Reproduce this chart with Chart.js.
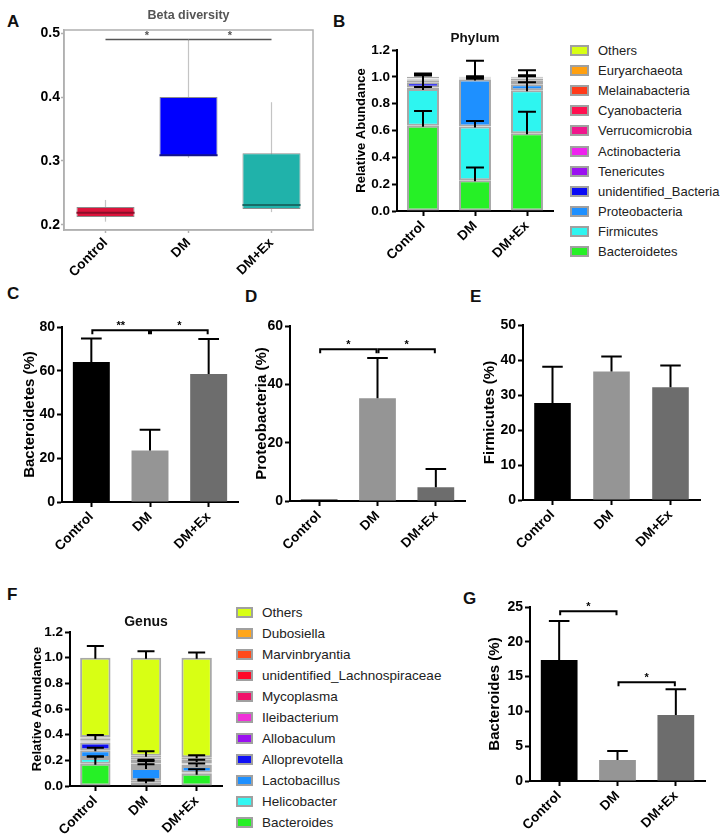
<!DOCTYPE html>
<html>
<head>
<meta charset="utf-8">
<script src="https://cdn.jsdelivr.net/npm/chart.js@4.4.0/dist/chart.umd.min.js"></script>
<style>
  body { margin: 0; background: #fff; font-family: "Liberation Sans", Arial, sans-serif; }
  #page { position: relative; width: 726px; height: 836px; overflow: hidden; background: #fff; }
  canvas.panel { position: absolute; }
  .letter { position: absolute; font-weight: bold; font-size: 17px; line-height: 17px; color: #111; }
  .legend { position: absolute; color: #222; white-space: nowrap; }
  .legend .item { display: flex; align-items: center; }
  .legend .box { box-sizing: border-box; border: 2px solid #a0a0a0; display: inline-block; margin-right: 9px; }
</style>
</head>
<body>
<div id="page">
  <div class="letter" style="left:7px;top:13px">A</div>
  <div class="letter" style="left:333px;top:13px">B</div>
  <div class="letter" style="left:7px;top:285px">C</div>
  <div class="letter" style="left:245px;top:288px">D</div>
  <div class="letter" style="left:470px;top:288px">E</div>
  <div class="letter" style="left:7px;top:586px">F</div>
  <div class="letter" style="left:463px;top:590px">G</div>
</div>
<script>
const groups = ["Control", "DM", "DM+Ex"];

// A: beta diversity box plot
const betaQ1 = [0.2125, 0.308, 0.225];
const betaQ3 = [0.228, 0.400, 0.312];
const betaMedian = [0.219, 0.309, 0.231];
const betaMin = [0.205, 0.305, 0.220];
const betaMax = [0.239, 0.490, 0.392];
const betaTicks = [0.2, 0.3, 0.4, 0.5];
const betaSig = [{ from: 0, to: 1, y: 0.49, text: "*" }, { from: 1, to: 2, y: 0.49, text: "*" }];

// B: phylum relative abundance (bottom to top)
const phylumNames = ["Bacteroidetes", "Firmicutes", "Proteobacteria", "unidentified_Bacteria", "Tenericutes",
  "Actinobacteria", "Verrucomicrobia", "Cyanobacteria", "Melainabacteria", "Euryarchaeota", "Others"];
const phylumControl = [0.635, 0.275, 0.010, 0.040, 0.010, 0.010, 0.005, 0.003, 0.002, 0.002, 0.008];
const phylumDM      = [0.230, 0.400, 0.350, 0.003, 0.005, 0.002, 0.002, 0.001, 0.001, 0.001, 0.005];
const phylumDMEx    = [0.580, 0.320, 0.045, 0.030, 0.010, 0.003, 0.003, 0.001, 0.001, 0.001, 0.006];
const phylumErrControl = [0.110, 0.115, 0.005, 0.060, 0.040, 0, 0.030, 0, 0, 0, 0.020];
const phylumErrDM      = [0.095, 0.040, 0.140, 0.003, 0.010, 0, 0, 0, 0, 0, 0.005];
const phylumErrDMEx    = [0.160, 0.060, 0.065, 0.075, 0.020, 0, 0, 0, 0, 0, 0.010];
const phylumTicks = [0, 0.2, 0.4, 0.6, 0.8, 1.0, 1.2];

// C, D, E: phylum level bars (%)
const bacteroidetesMean = [64.0, 23.5, 58.5];
const bacteroidetesSD = [10.8, 9.5, 16.0];
const bacteroidetesSig = [{ from: 0, to: 1, y: 78.5, text: "**" }, { from: 1, to: 2, y: 78.5, text: "*" }];
const proteobacteriaMean = [0.5, 35.2, 4.7];
const proteobacteriaSD = [0, 13.8, 6.3];
const proteobacteriaSig = [{ from: 0, to: 1, y: 52, text: "*" }, { from: 1, to: 2, y: 52, text: "*" }];
const firmicutesMean = [27.7, 36.7, 32.2];
const firmicutesSD = [10.4, 4.3, 6.2];

// F: genus relative abundance (bottom to top)
const genusNames = ["Bacteroides", "Helicobacter", "Lactobacillus", "Alloprevotella", "Allobaculum", "Ileibacterium",
  "Mycoplasma", "unidentified_Lachnospiraceae", "Marvinbryantia", "Dubosiella", "Others"];
const genusControl = [0.174, 0.045, 0.060, 0.060, 0.008, 0.005, 0.015, 0.005, 0.005, 0.005, 0.618];
const genusDM      = [0.030, 0.015, 0.095, 0.015, 0.020, 0.020, 0.010, 0.005, 0.010, 0.015, 0.765];
const genusDMEx    = [0.095, 0.010, 0.050, 0.010, 0.005, 0.005, 0.005, 0.015, 0.010, 0.020, 0.775];
const genusErrControl = [0.056, 0.010, 0.020, 0.000, 0.000, 0.000, 0.030, 0, 0, 0, 0.090];
const genusErrDM      = [0.013, 0.005, 0.030, 0.000, 0.020, 0.010, 0.000, 0, 0, 0.035, 0.050];
const genusErrDMEx    = [0.035, 0.000, 0.020, 0.000, 0.000, 0.000, 0.000, 0.010, 0, 0.015, 0.040];

// G: Bacteroides (%)
const bacteroidesMean = [17.4, 3.0, 9.5];
const bacteroidesSD = [5.6, 1.3, 3.7];
const bacteroidesSig = [{ from: 0, to: 1, y: 24.4, text: "*" }, { from: 1, to: 2, y: 14.2, text: "*" }];

// colours
const betaColors = ["#dc143c", "#0000ff", "#20b2aa"];
const betaMedianColors = ["#8a0f2a", "#14148a", "#176b66"];
const barColors = ["#000000", "#959595", "#6d6d6d"];
const phylumColors = ["#26f026", "#2ef5f0", "#1e90ff", "#0a0af5", "#9a10f0", "#ee22ee", "#f0168c", "#ff1050", "#ff3a1a", "#ffa010", "#d8ff14"];
const genusColors = ["#26f026", "#33f7f2", "#1e90ff", "#1010f5", "#9a10f0", "#f030d8", "#f0106a", "#ff0a28", "#ff4a1a", "#ffa61a", "#d8ff14"];

const FONT = '"Liberation Sans", Arial, Helvetica, sans-serif';
Chart.defaults.font.family = FONT;
Chart.defaults.color = "#000";
Chart.defaults.animation = false;

const page = document.getElementById("page");

function place(left, top, w, h) {
  const c = document.createElement("canvas");
  c.className = "panel";
  c.width = w; c.height = h;
  c.style.left = left + "px"; c.style.top = top + "px";
  c.style.width = w + "px"; c.style.height = h + "px";
  page.appendChild(c);
  return c;
}

function yAxis(o) {
  return {
    stacked: !!o.stacked,
    min: o.min, max: o.max,
    afterBuildTicks: s => { s.ticks = o.ticks.map(v => ({ value: v })); },
    afterFit: s => { s.width = o.width; },
    ticks: { font: { size: o.tickSize || 14, weight: "bold" }, color: "#000", padding: o.tickPad || 2, callback: o.fmt },
    grid: { drawOnChartArea: false, tickLength: o.tickLength || 5, tickWidth: o.lineW || 2, tickColor: o.line || "#000" },
    border: { color: o.line || "#000", width: o.lineW || 2 },
    title: o.title ? {
      display: true, text: o.title, color: "#000",
      font: { size: o.titleSize || 15, weight: "bold" },
      padding: { top: o.titlePad, bottom: 0 }
    } : { display: false }
  };
}

function xAxis(height, o = {}) {
  return {
    stacked: !!o.stacked,
    afterFit: s => { s.height = height; },
    ticks: { font: { size: o.tickSize || 13.5, weight: "bold" }, color: "#000", minRotation: 45, maxRotation: 45, padding: 2 },
    grid: { drawOnChartArea: false, offset: false, tickLength: o.tickLength || 5, tickWidth: o.lineW || 2, tickColor: o.line || "#000" },
    border: { color: o.line || "#000", width: o.lineW || 2 }
  };
}

function titlePlugin(text, y, size, color) {
  return {
    id: "panelTitle",
    afterDraw(chart) {
      const { ctx, chartArea } = chart;
      ctx.save();
      ctx.font = `bold ${size}px ${FONT}`;
      ctx.fillStyle = color;
      ctx.textAlign = "center";
      ctx.textBaseline = "middle";
      ctx.fillText(text, (chartArea.left + chartArea.right) / 2, y);
      ctx.restore();
    }
  };
}

function errorBars(means, sds) {
  return {
    id: "errorBars",
    afterDatasetsDraw(chart) {
      const { ctx } = chart;
      const y = chart.scales.y;
      const meta = chart.getDatasetMeta(0);
      ctx.save();
      ctx.strokeStyle = "#000";
      ctx.lineWidth = 2;
      meta.data.forEach((bar, i) => {
        if (!sds[i]) return;
        const top = y.getPixelForValue(means[i] + sds[i]);
        const half = bar.width * 0.28;
        ctx.beginPath();
        ctx.moveTo(bar.x, bar.y);
        ctx.lineTo(bar.x, top);
        ctx.moveTo(bar.x - half, top);
        ctx.lineTo(bar.x + half, top);
        ctx.stroke();
      });
      ctx.restore();
    }
  };
}

function stackErrors(groupValues, groupErrors) {
  return {
    id: "stackErrors",
    afterDatasetsDraw(chart) {
      const { ctx } = chart;
      const y = chart.scales.y;
      ctx.save();
      ctx.strokeStyle = "#000";
      ctx.lineWidth = 2;
      groupValues.forEach((vals, i) => {
        let cum = 0;
        vals.forEach((v, k) => {
          cum += v;
          const err = groupErrors[i][k];
          if (!err) return;
          const bar = chart.getDatasetMeta(k).data[i];
          const top = y.getPixelForValue(cum + err);
          const half = bar.width * 0.28;
          ctx.beginPath();
          ctx.moveTo(bar.x, y.getPixelForValue(cum) + 1);
          ctx.lineTo(bar.x, top);
          ctx.moveTo(bar.x - half, top);
          ctx.lineTo(bar.x + half, top);
          ctx.stroke();
        });
      });
      ctx.restore();
    }
  };
}

function brackets(list, o) {
  return {
    id: "brackets",
    afterDatasetsDraw(chart) {
      const { ctx } = chart;
      const { x, y } = chart.scales;
      ctx.save();
      ctx.strokeStyle = o.color;
      ctx.fillStyle = o.color;
      ctx.lineWidth = o.width;
      ctx.font = `bold ${o.size}px ${FONT}`;
      ctx.textAlign = "center";
      ctx.textBaseline = "alphabetic";
      list.forEach(b => {
        const x1 = x.getPixelForValue(b.from) + o.gap;
        const x2 = x.getPixelForValue(b.to) - o.gap;
        const py = y.getPixelForValue(b.y);
        ctx.beginPath();
        ctx.moveTo(x1, py + o.drop);
        ctx.lineTo(x1, py);
        ctx.lineTo(x2, py);
        ctx.lineTo(x2, py + o.drop);
        ctx.stroke();
        ctx.fillText(b.text, (x1 + x2) / 2, py - o.lift);
      });
      ctx.restore();
    }
  };
}

function simpleBarChart(canvas, means, sds, sig, o) {
  new Chart(canvas, {
    type: "bar",
    data: {
      labels: groups,
      datasets: [{
        data: means,
        backgroundColor: barColors,
        borderWidth: 0,
        barPercentage: o.barPct,
        categoryPercentage: 1
      }]
    },
    options: {
      responsive: false,
      layout: { padding: o.padding },
      plugins: { legend: { display: false }, tooltip: { enabled: false } },
      scales: {
        x: xAxis(o.xHeight),
        y: yAxis({ min: 0, max: o.max, ticks: o.ticks, width: o.yWidth, title: o.title, titlePad: o.titlePad, fmt: v => String(v) })
      }
    },
    plugins: [errorBars(means, sds)].concat(sig ? [brackets(sig, { color: "#000", width: 2, drop: 4, gap: 1, size: 11, lift: 1 })] : [])
  });
}

function stackedChart(canvas, names, colors, groupValues, groupErrors, o) {
  const datasets = names.map((name, k) => ({
    label: name,
    data: groupValues.map(g => g[k]),
    backgroundColor: colors[k],
    borderColor: "#a8a8a8",
    borderWidth: 2,
    borderSkipped: false,
    barPercentage: o.barPct,
    categoryPercentage: 1
  }));
  new Chart(canvas, {
    type: "bar",
    data: { labels: groups, datasets },
    options: {
      responsive: false,
      layout: { padding: o.padding },
      plugins: { legend: { display: false }, tooltip: { enabled: false } },
      scales: {
        x: xAxis(o.xHeight, { stacked: true }),
        y: yAxis({ stacked: true, min: 0, max: 1.2, ticks: phylumTicks, width: o.yWidth, title: "Relative Abundance",
          tickSize: 13.5, titleSize: 13, titlePad: o.titlePad, fmt: v => v.toFixed(1) })
      }
    },
    plugins: [stackErrors(groupValues, groupErrors), titlePlugin(o.heading, o.headingY, o.headingSize, "#111")]
  });
}

function buildLegend(left, top, step, names, colors, boxW, boxH, fontSize) {
  const div = document.createElement("div");
  div.className = "legend";
  div.style.left = left + "px";
  div.style.top = top + "px";
  div.style.fontSize = fontSize + "px";
  for (let k = names.length - 1; k >= 0; k--) {
    const row = document.createElement("div");
    row.className = "item";
    row.style.height = step + "px";
    const sw = document.createElement("span");
    sw.className = "box";
    sw.style.background = colors[k];
    sw.style.width = boxW + "px";
    sw.style.height = boxH + "px";
    const t = document.createElement("span");
    t.textContent = names[k];
    row.append(sw, t);
    div.appendChild(row);
  }
  page.appendChild(div);
}

// ---- A: box plot ----
const boxWhiskers = {
  id: "boxWhiskers",
  beforeDatasetsDraw(chart) {
    const { ctx, chartArea } = chart;
    const { x, y } = chart.scales;
    ctx.save();
    ctx.strokeStyle = "#b0b0b0";
    ctx.lineWidth = 1.5;
    ctx.strokeRect(chartArea.left, chartArea.top, chartArea.right - chartArea.left, chartArea.bottom - chartArea.top);
    ctx.strokeStyle = "#c4c4c4";
    ctx.lineWidth = 1.2;
    groups.forEach((g, i) => {
      const px = x.getPixelForValue(i);
      ctx.beginPath();
      ctx.moveTo(px, y.getPixelForValue(betaMin[i]));
      ctx.lineTo(px, y.getPixelForValue(betaMax[i]));
      ctx.stroke();
    });
    ctx.restore();
  },
  afterDatasetsDraw(chart) {
    const { ctx } = chart;
    const y = chart.scales.y;
    const meta = chart.getDatasetMeta(0);
    ctx.save();
    ctx.lineWidth = 2;
    meta.data.forEach((bar, i) => {
      const py = y.getPixelForValue(betaMedian[i]);
      ctx.strokeStyle = betaMedianColors[i];
      ctx.beginPath();
      ctx.moveTo(bar.x - bar.width / 2, py);
      ctx.lineTo(bar.x + bar.width / 2, py);
      ctx.stroke();
    });
    ctx.restore();
  }
};

new Chart(place(0, 0, 320, 280), {
  type: "bar",
  data: {
    labels: groups,
    datasets: [{
      data: groups.map((g, i) => [betaQ1[i], betaQ3[i]]),
      backgroundColor: betaColors,
      borderColor: "#8c8c8c",
      borderWidth: 1,
      borderSkipped: false,
      barPercentage: 0.7,
      categoryPercentage: 1
    }]
  },
  options: {
    responsive: false,
    layout: { padding: { left: 0, top: 30, right: 7, bottom: 0 } },
    plugins: { legend: { display: false }, tooltip: { enabled: false } },
    scales: {
      x: xAxis(50, { line: "#b0b0b0", lineW: 1.5, tickLength: 3 }),
      y: yAxis({ min: 0.192, max: 0.505, ticks: betaTicks, width: 64, fmt: v => v.toFixed(1),
        line: "#b0b0b0", lineW: 1.5, tickLength: 3, tickPad: 1 })
    }
  },
  plugins: [boxWhiskers, titlePlugin("Beta diversity", 16, 12.5, "#555"),
    brackets(betaSig, { color: "#555", width: 1.5, drop: 0, gap: 0, size: 11, lift: 1 })]
});

// ---- B: phylum ----
stackedChart(place(320, 0, 245, 280), phylumNames, phylumColors,
  [phylumControl, phylumDM, phylumDMEx], [phylumErrControl, phylumErrDM, phylumErrDMEx],
  { padding: { left: 0, top: 50, right: 12, bottom: 0 }, yWidth: 77, xHeight: 69, titlePad: 34, barPct: 0.615,
    heading: "Phylum", headingY: 38, headingSize: 13.5 });
buildLegend(570, 40, 20.2, phylumNames, phylumColors, 19, 11, 13);

// ---- C, D, E ----
simpleBarChart(place(0, 290, 245, 270), bacteroidetesMean, bacteroidetesSD, bacteroidetesSig,
  { padding: { left: 0, top: 37, right: 7, bottom: 0 }, yWidth: 62, xHeight: 58, max: 80, ticks: [0, 20, 40, 60, 80],
    title: "Bacteroidetes (%)", titlePad: 21, barPct: 0.63 });
simpleBarChart(place(245, 290, 230, 270), proteobacteriaMean, proteobacteriaSD, proteobacteriaSig,
  { padding: { left: 0, top: 36, right: 10, bottom: 0 }, yWidth: 45, xHeight: 59, max: 60, ticks: [0, 20, 40, 60],
    title: "Proteobacteria (%)", titlePad: 8, barPct: 0.63 });
simpleBarChart(place(475, 290, 251, 270), firmicutesMean, firmicutesSD, null,
  { padding: { left: 0, top: 35, right: 26, bottom: 0 }, yWidth: 48, xHeight: 60, max: 50, ticks: [0, 10, 20, 30, 40, 50],
    title: "Firmicutes (%)", titlePad: 6, barPct: 0.62 });

// ---- F: genus ----
stackedChart(place(0, 600, 230, 236), genusNames, genusColors,
  [genusControl, genusDM, genusDMEx], [genusErrControl, genusErrDM, genusErrDMEx],
  { padding: { left: 0, top: 32, right: 8, bottom: 0 }, yWidth: 70, xHeight: 50, titlePad: 30, barPct: 0.6,
    heading: "Genus", headingY: 22, headingSize: 14 });
buildLegend(236, 601.5, 21, genusNames, genusColors, 17, 11, 13.5);

// ---- G: Bacteroides ----
simpleBarChart(place(475, 580, 251, 256), bacteroidesMean, bacteroidesSD, bacteroidesSig,
  { padding: { left: 0, top: 27, right: 21, bottom: 0 }, yWidth: 55, xHeight: 55, max: 25, ticks: [0, 5, 10, 15, 20, 25],
    title: "Bacteroides (%)", titlePad: 11, barPct: 0.63 });
</script>
</body>
</html>
